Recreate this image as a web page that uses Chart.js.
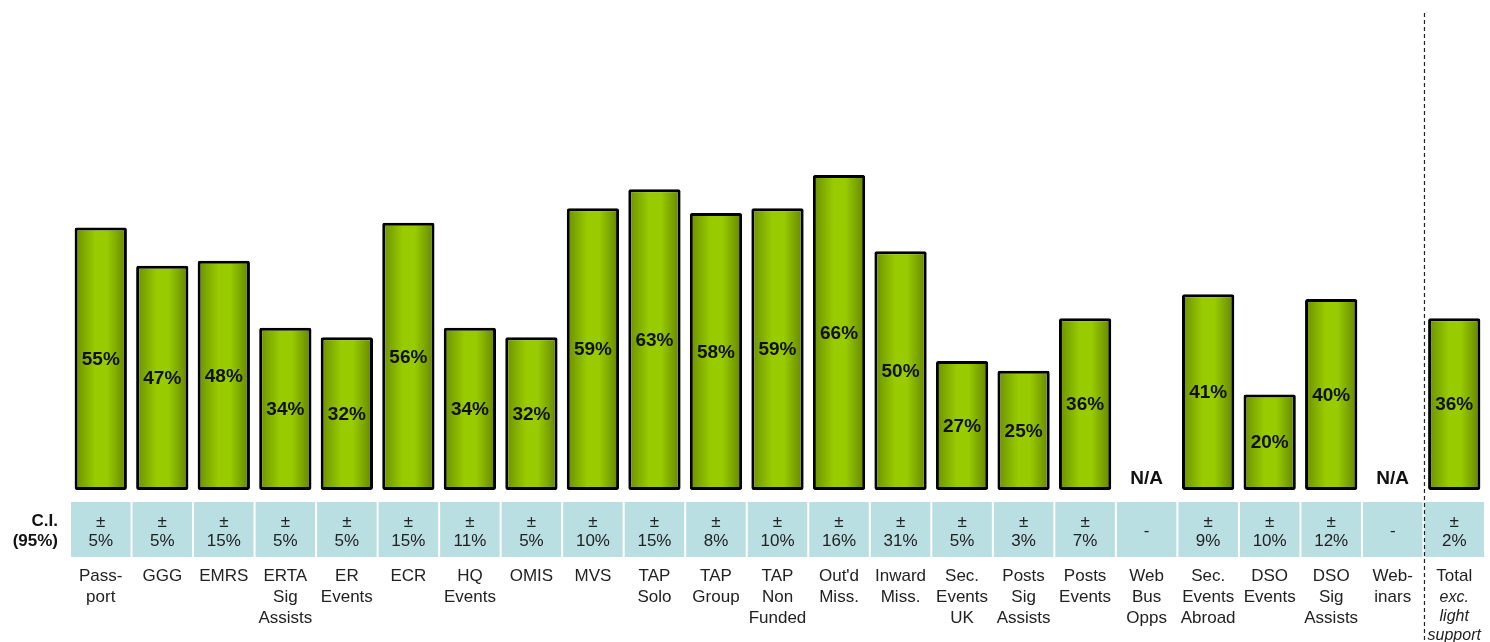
<!DOCTYPE html>
<html>
<head>
<meta charset="utf-8">
<script src="https://cdn.jsdelivr.net/npm/chart.js@4"></script>
<style>
html,body{margin:0;padding:0;background:#fff;}
canvas{display:block;}
</style>
</head>
<body>
<canvas id="c" width="1490" height="642"></canvas>
<script>
const categories = [
  ["Pass-","port"],["GGG"],["EMRS"],["ERTA","Sig","Assists"],["ER","Events"],["ECR"],
  ["HQ","Events"],["OMIS"],["MVS"],["TAP","Solo"],["TAP","Group"],["TAP","Non","Funded"],
  ["Out'd","Miss."],["Inward","Miss."],["Sec.","Events","UK"],["Posts","Sig","Assists"],
  ["Posts","Events"],["Web","Bus","Opps"],["Sec.","Events","Abroad"],["DSO","Events"],
  ["DSO","Sig","Assists"],["Web-","inars"],["Total"]
];
const totalSubLabel = ["exc.","light","support"];
const values = [55,47,48,34,32,56,34,32,59,63,58,59,66,50,27,25,36,null,41,20,40,null,36];
const ciValues = [5,5,15,5,5,15,11,5,10,15,8,10,16,31,5,3,7,null,9,10,12,null,2];
const ciTitle = ["C.I.","(95%)"];

const FONT = '"Liberation Sans", Arial, sans-serif';
const BAR_PCT = 0.85;

function barGradient(ctx){
  const chart = ctx.chart;
  const xs = chart.scales && chart.scales.x;
  if (!xs || !chart.chartArea || ctx.type !== 'data') return '#99cc00';
  const cx = xs.getPixelForValue(ctx.dataIndex);
  const colW = xs.width / categories.length;
  const w = colW * BAR_PCT;
  const g = chart.ctx.createLinearGradient(cx - w/2, 0, cx + w/2, 0);
  g.addColorStop(0, '#6a8f00');
  g.addColorStop(0.4, '#99cc00');
  g.addColorStop(0.62, '#99cc00');
  g.addColorStop(1, '#628400');
  return g;
}

const overlay = {
  id: 'overlay',
  afterDatasetsDraw(chart){
    const c = chart.ctx;
    const xs = chart.scales.x, ys = chart.scales.y;
    const colW = xs.width / categories.length;
    const base = ys.getPixelForValue(0);
    c.save();
    // value labels
    c.textAlign = 'center';
    c.textBaseline = 'middle';
    c.fillStyle = '#111';
    c.font = 'bold 19px ' + FONT;
    values.forEach((v,i) => {
      const x = xs.getPixelForValue(i);
      if (v === null) {
        c.fillText('N/A', x, base - 11);
      } else {
        const top = ys.getPixelForValue(v);
        c.fillText(v + '%', x, (top + base)/2 + 1);
      }
    });
    // CI boxes
    const boxTop = base + 12, boxBot = base + 67;
    values.forEach((v,i) => {
      const x = xs.getPixelForValue(i);
      c.fillStyle = '#b9dfe3';
      c.fillRect(x - colW/2 + 1, boxTop, colW - 2, boxBot - boxTop);
    });
    c.fillStyle = '#222';
    c.font = '17px ' + FONT;
    ciValues.forEach((v,i) => {
      const x = xs.getPixelForValue(i);
      if (v === null) {
        c.fillText('-', x, base + 41);
      } else {
        c.fillText('±', x, base + 32);
        c.fillText(v + '%', x, base + 51);
      }
    });
    // CI title
    c.textAlign = 'right';
    c.fillStyle = '#111';
    c.font = 'bold 17px ' + FONT;
    c.fillText(ciTitle[0], xs.left - 12, base + 31);
    c.fillText(ciTitle[1], xs.left - 12, base + 51);
    // Total italic sub-label
    const lastX = xs.getPixelForValue(categories.length - 1);
    c.textAlign = 'center';
    c.fillStyle = '#222';
    c.font = 'italic 16px ' + FONT;
    totalSubLabel.forEach((t,k) => c.fillText(t, lastX, base + 108 + k*19));
    // dashed separator
    const sepX = (xs.getPixelForValue(categories.length - 2) + lastX)/2 + 1;
    c.strokeStyle = '#222';
    c.lineWidth = 1.2;
    c.setLineDash([4,3]);
    c.beginPath();
    c.moveTo(sepX, 13);
    c.lineTo(sepX, chart.height);
    c.stroke();
    c.restore();
  }
};

new Chart(document.getElementById('c'), {
  type: 'bar',
  data: {
    labels: categories,
    datasets: [{
      data: values,
      backgroundColor: barGradient,
      borderColor: '#000',
      borderWidth: 3,
      borderSkipped: false,
      borderRadius: 2,
      barPercentage: BAR_PCT,
      categoryPercentage: 1
    }]
  },
  options: {
    responsive: false,
    animation: false,
    layout: { padding: { left: 70, right: 5, top: 15, bottom: 0 } },
    plugins: { legend: { display: false }, tooltip: { enabled: false } },
    scales: {
      x: {
        grid: { display: false, drawTicks: false },
        border: { display: false },
        ticks: {
          autoSkip: false, maxRotation: 0, minRotation: 0,
          padding: 76,
          color: '#222',
          font: { family: FONT, size: 17, lineHeight: 1.24 }
        },
        afterFit(s){ s.height = 152; s.paddingLeft = 0; s.paddingRight = 0; }
      },
      y: {
        display: false,
        min: 0, max: 99.5
      }
    }
  },
  plugins: [overlay]
});
</script>
</body>
</html>
